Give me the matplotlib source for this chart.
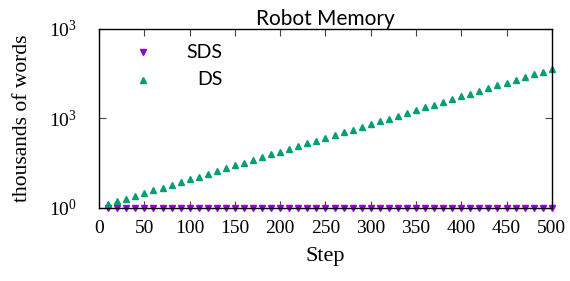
"""Robot memory chart: SDS vs DS growth per step."""

import matplotlib
matplotlib.use("Agg")
import matplotlib.pyplot as plt

SERIF = ["Liberation Serif", "DejaVu Serif"]
SANS = ["Lato", "DejaVu Sans"]

plt.rcParams["mathtext.fontset"] = "custom"
plt.rcParams["mathtext.rm"] = "Liberation Serif"

steps = list(range(10, 501, 10))

# thousands of words
sds_words = [1.0] * 50
ds_words = [
    1.35, 1.67, 2.07, 2.56, 3.16, 3.91, 4.84, 5.99, 7.41, 9.17,
    11.3, 14.0, 17.4, 21.5, 26.6, 32.9, 40.7, 50.4, 62.4, 77.2,
    95.5, 118, 146, 181, 224, 277, 343, 424, 525, 649,
    804, 994, 1230, 1522, 1884, 2331, 2884, 3568, 4416, 5464,
    6761, 8366, 10351, 12809, 15849, 19611, 24266, 30026, 37154, 45973,
]

x_ticks = list(range(0, 501, 50))
y_ticks = [1, 1e3, 1e6]
y_tick_labels = [r"$\mathregular{10^0}$", r"$\mathregular{10^3}$",
                 r"$\mathregular{10^3}$"]

SDS_COLOR = "#9400d3"
DS_COLOR = "#009e73"

fig = plt.figure(figsize=(5.7, 2.81), dpi=100)
ax = fig.add_axes([0.174, 0.260, 0.794, 0.637])

ax.plot(steps, sds_words, linestyle="none", marker="v", ms=5,
        color=SDS_COLOR, clip_on=False, zorder=3)
ax.plot(steps, ds_words, linestyle="none", marker="^", ms=5,
        color=DS_COLOR, clip_on=False, zorder=3)

ax.set_yscale("log")
ax.set_xlim(0, 500)
ax.set_ylim(1, 1e6)
ax.set_xticks(x_ticks)
ax.set_xticklabels([str(t) for t in x_ticks], family=SERIF, fontsize=14)
ax.set_yticks(y_ticks)
ax.set_yticklabels(y_tick_labels, family=SERIF, fontsize=14)
ax.minorticks_off()
ax.tick_params(direction="in", length=5, width=0.8, color="#444444",
               top=True, right=True)
ax.tick_params(axis="x", pad=9)
ax.tick_params(axis="y", pad=16)
for s in ax.spines.values():
    s.set_linewidth(1.0)
    s.set_zorder(4)

ax.set_xlabel("Step", family=SERIF, fontsize=16, labelpad=7)
ax.set_ylabel("thousands of words", family=SERIF, fontsize=15.5, labelpad=12)
ax.set_title("Robot Memory", family=SANS, fontsize=15, pad=3)

# gnuplot-style key: sample on the left, label right-justified
key = [("SDS", "v", SDS_COLOR), ("DS", "^", DS_COLOR)]
for i, (name, mk, col) in enumerate(key):
    yk = 0.87 - i * 0.155
    ax.plot([0.097], [yk], marker=mk, ms=5, color=col, linestyle="none",
            transform=ax.transAxes)
    ax.text(0.272, yk, name, transform=ax.transAxes, ha="right", va="center",
            family=SANS, fontsize=14)

fig.savefig("out.png", dpi=100)
plt.close(fig)
